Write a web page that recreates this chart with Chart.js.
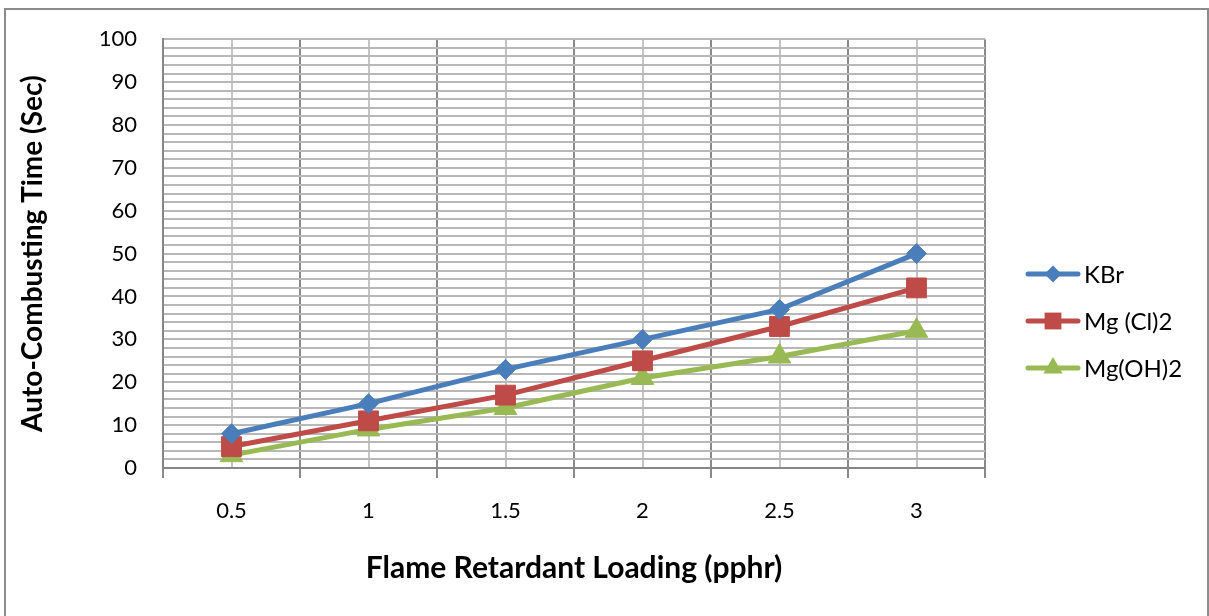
<!DOCTYPE html>
<html>
<head>
<meta charset="utf-8">
<script src="https://cdn.jsdelivr.net/npm/chart.js@4"></script>
<style>
  html, body { margin: 0; padding: 0; background: #fff; overflow: hidden; }
  #wrap { position: relative; width: 1209px; height: 616px; }
  #frame { position: absolute; left: 4px; top: 8px; width: 1201px; height: 700px;
           border: 2px solid #8c8c8c; border-bottom: none; }
  #legend { position: absolute; left: 1025px; top: 250px; font-family: Lato, sans-serif;
            font-size: 24px; color: #000; }
  .item { display: flex; align-items: center; height: 47px; }
  .item canvas { margin-right: 3px; }
</style>
</head>
<body>
<div id="wrap">
  <div id="frame"></div>
  <canvas id="myChart" width="1209" height="616"></canvas>
  <div id="legend"></div>
</div>
<script>
var loading = ['0.5', '1', '1.5', '2', '2.5', '3'];
var kbr = [8, 15, 23, 30, 37, 50];
var mgCl2 = [5, 11, 17, 25, 33, 42];
var mgOH2 = [3, 9, 14, 21, 26, 32];
var seriesNames = ['KBr', 'Mg (Cl)2', 'Mg(OH)2'];
var seriesColors = ['#4A7EBB', '#BE4B48', '#98B954'];
var markers = ['rectRot', 'rect', 'triangle'];
var markerSizes = [10, 14, 13];

var font = 'Lato';
var seriesData = [kbr, mgCl2, mgOH2];

var datasets = seriesData.map(function (d, i) {
    return {
        label: seriesNames[i],
        data: d,
        borderColor: seriesColors[i],
        backgroundColor: seriesColors[i],
        borderWidth: 5,
        pointStyle: markers[i],
        pointRadius: markerSizes[i],
        pointHoverRadius: markerSizes[i],
        pointBorderWidth: 1,
        pointBorderColor: seriesColors[i],
        pointBackgroundColor: seriesColors[i],
        tension: 0
    };
});

var ctx = document.getElementById('myChart').getContext('2d');
var myChart = new Chart(ctx, {
    type: 'line',
    data: { labels: loading, datasets: datasets },
    options: {
        responsive: false,
        animation: false,
        layout: { padding: { top: 36, right: 224, bottom: 0, left: 0 } },
        plugins: { legend: { display: false }, tooltip: { enabled: false } },
        scales: {
            x: {
                type: 'category',
                offset: true,
                grid: { offset: true, color: '#8a8a8a', lineWidth: 2, tickLength: 10, tickColor: '#8a8a8a' },
                border: { color: '#868686', width: 2 },
                ticks: { color: '#000', font: { family: font, size: 22 }, padding: 20, maxRotation: 0 },
                title: {
                    display: true,
                    text: 'Flame Retardant Loading (pphr)',
                    color: '#000',
                    font: { family: font, size: 30, weight: 'bold' },
                    padding: { top: 0, bottom: 30 }
                },
                afterFit: function (s) { s.height = 148; }
            },
            x2: {
                type: 'category',
                position: 'bottom',
                offset: true,
                grid: { offset: false, color: '#c4c4c4', lineWidth: 2, drawTicks: false },
                border: { display: false },
                ticks: { display: false },
                afterFit: function (s) { s.height = 0; }
            },
            y: {
                min: 0,
                max: 100,
                grid: { color: '#b8b8b8', lineWidth: 2, drawTicks: false },
                border: { color: '#868686', width: 2 },
                ticks: {
                    stepSize: 2,
                    autoSkip: false,
                    padding: 26,
                    color: '#000',
                    font: { family: font, size: 22 },
                    callback: function (v) { return v % 10 === 0 ? v : ''; }
                },
                title: {
                    display: true,
                    text: 'Auto-Combusting Time (Sec)',
                    color: '#000',
                    font: { family: font, size: 28, weight: 'bold' },
                    padding: { top: 16, bottom: 0 }
                },
                afterFit: function (s) { s.width = 163; }
            }
        }
    }
});

// legend: line through the marker, like the series swatches
var legend = document.getElementById('legend');
datasets.forEach(function (ds, i) {
    var row = document.createElement('div');
    row.className = 'item';
    var c = document.createElement('canvas');
    c.width = 56; c.height = 30;
    var g = c.getContext('2d');
    g.strokeStyle = ds.borderColor;
    g.lineWidth = 5;
    g.lineCap = 'round';
    g.beginPath(); g.moveTo(3, 15); g.lineTo(53, 15); g.stroke();
    g.fillStyle = ds.backgroundColor;
    g.strokeStyle = ds.borderColor;
    g.lineWidth = 1;
    Chart.helpers.drawPoint(g, { pointStyle: ds.pointStyle, radius: ds.pointRadius * 0.85, rotation: 0 }, 28, 15);
    row.appendChild(c);
    var t = document.createElement('span');
    t.textContent = ds.label;
    row.appendChild(t);
    legend.appendChild(row);
});
</script>
</body>
</html>
